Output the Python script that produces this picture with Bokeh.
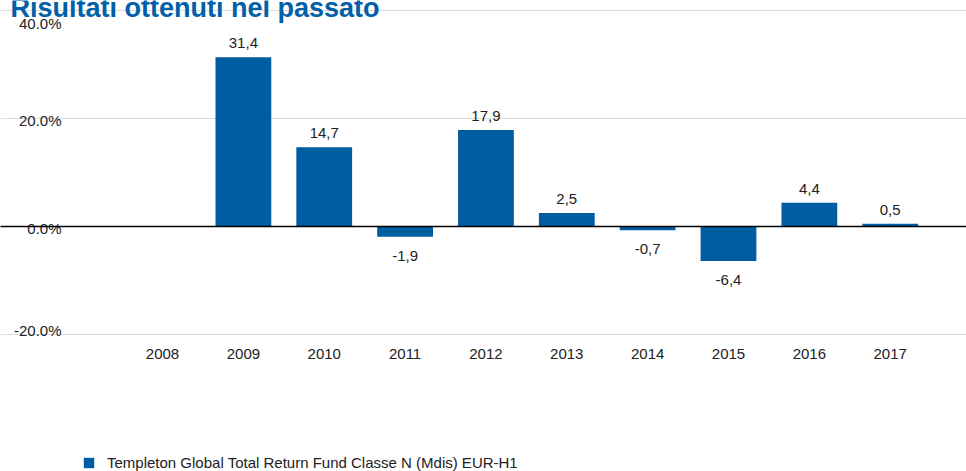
from bokeh.plotting import figure
from bokeh.models import (ColumnDataSource, Range1d, FixedTicker, Label, Grid,
                          LabelSet, Legend, LegendItem)
from bokeh.core.properties import value
from bokeh.embed import file_html
from bokeh.resources import INLINE

# ---- data ----
years = [2008, 2009, 2010, 2011, 2012, 2013, 2014, 2015, 2016, 2017]
returns = [None, 31.4, 14.7, -1.9, 17.9, 2.5, -0.7, -6.4, 4.4, 0.5]
y_ticks = [-20, 0, 20, 40]
y_tick_labels = ["-20.0%", "0.0%", "20.0%", "40.0%"]
series_name = "Templeton Global Total Return Fund Classe N (Mdis) EUR-H1"
title_text = "Risultati ottenuti nel passato"

BLUE = "#005DA2"
FONT = "Liberation Sans"
TXT = "#222222"

W, H = 966, 471
# plot area geometry (pixels) -> data ranges
PX_X = 80.85          # pixels per year
PX_Y = 5.39           # pixels per percentage point
AREA_LEFT = 82        # left edge of plotting area
ZERO_Y = 226          # pixel row of 0%
x_lo = years[0] - 0.99 - AREA_LEFT / PX_X
x_hi = x_lo + W / PX_X
y_hi = ZERO_Y / PX_Y
y_lo = y_hi - H / PX_Y
area_x0 = x_lo + AREA_LEFT / PX_X

bx = [y for y, v in zip(years, returns) if v is not None]
bv = [v for v in returns if v is not None]
blab = [f"{v:.1f}".replace(".", ",") for v in bv]
pos = [v >= 0 for v in bv]

src_pos = ColumnDataSource(dict(x=[x for x, p in zip(bx, pos) if p],
                                top=[v for v, p in zip(bv, pos) if p],
                                lab=[l for l, p in zip(blab, pos) if p]))
src_neg = ColumnDataSource(dict(x=[x for x, p in zip(bx, pos) if not p],
                                top=[v for v, p in zip(bv, pos) if not p],
                                lab=[l for l, p in zip(blab, pos) if not p]))
src_all = ColumnDataSource(dict(x=bx, top=bv))

p = figure(width=W, height=H, output_backend="svg", toolbar_location=None,
           x_range=Range1d(x_lo, x_hi), y_range=Range1d(y_lo, y_hi),
           x_axis_location=None, y_axis_location=None,
           min_border=0)
p.outline_line_color = None
p.background_fill_color = "white"
p.border_fill_color = "white"
# drop the default grids
p.center = [r for r in p.center if not isinstance(r, Grid)]

# gridlines (not for 0, which gets the black baseline)
grid = Grid(dimension=1, ticker=FixedTicker(ticks=[t for t in y_ticks if t != 0]),
            bounds=(area_x0, x_hi), grid_line_color="#DCDCDC", grid_line_width=1)
p.add_layout(grid)

bars = p.vbar(x="x", top="top", bottom=0, width=0.69, source=src_all,
              fill_color=BLUE, line_color=None)

zero = Grid(dimension=1, ticker=FixedTicker(ticks=[0]), bounds=(area_x0, x_hi),
            grid_line_color="black", grid_line_width=1.5, level="overlay")
p.add_layout(zero)

# value labels
p.add_layout(LabelSet(x="x", y="top", text="lab", source=src_pos,
                      text_align="center", text_baseline="middle", y_offset=14,
                      text_font=value(FONT), text_font_size="15px", text_color=TXT))
p.add_layout(LabelSet(x="x", y="top", text="lab", source=src_neg,
                      text_align="center", text_baseline="middle", y_offset=-19,
                      text_font=value(FONT), text_font_size="15px", text_color=TXT))

# category (x) labels under the lowest gridline
xlab_src = ColumnDataSource(dict(x=years, y=[min(y_ticks)] * len(years),
                                 t=[str(y) for y in years]))
p.add_layout(LabelSet(x="x", y="y", text="t", source=xlab_src, y_offset=-20,
                      text_align="center", text_baseline="middle",
                      text_font=value(FONT), text_font_size="15px", text_color=TXT))

# value (y) tick labels left of the plotting area
ylab_src = ColumnDataSource(dict(x=[area_x0] * len(y_ticks), y=y_ticks, t=y_tick_labels,
                                 dy=[4, -2, -2, -13]))
p.add_layout(LabelSet(x="x", y="y", text="t", source=ylab_src, x_offset=-21,
                      y_offset="dy", text_align="right", text_baseline="middle",
                      text_font=value(FONT), text_font_size="15px", text_color=TXT))

# legend at the bottom
legend = Legend(items=[LegendItem(label=series_name, renderers=[bars])],
                location=(AREA_LEFT, 0), orientation="horizontal",
                glyph_width=13, glyph_height=13, label_standoff=12,
                padding=0, margin=0, border_line_color=None,
                background_fill_alpha=0, label_text_font=FONT,
                label_text_font_size="15px", label_text_color=TXT)
p.add_layout(legend)

# title (cut off at the top, as in the original)
p.add_layout(Label(x=x_lo + 10 / PX_X, y=y_hi - 7 / PX_Y, text=title_text,
                   text_font=FONT, text_font_size="27px", text_font_style="bold",
                   text_color="#0060A8", text_baseline="alphabetic"))

open("out.html", "w").write(file_html(p, INLINE))
